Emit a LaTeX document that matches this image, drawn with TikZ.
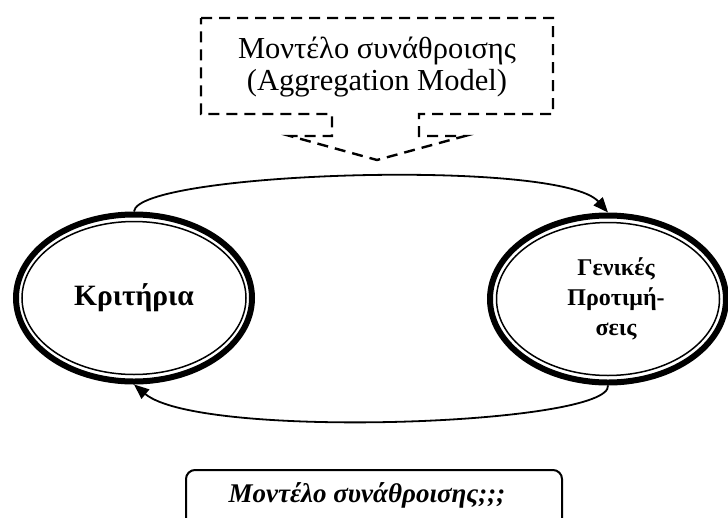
\documentclass[tikz,border=0pt]{standalone}
\usepackage{fontspec}
\setmainfont{Liberation Serif}
\usetikzlibrary{arrows.meta,shapes.geometric}

\tikzset{
  state/.style={ellipse, draw, line width=6pt, inner sep=0pt,
                minimum width=236pt, minimum height=167pt, align=center},
  innerring/.style={line width=1.5pt},
  flow/.style={line width=1.8pt, -{Triangle[length=15pt,width=12pt]}},
  calloutline/.style={line width=2.4pt, dash pattern=on 11pt off 7pt},
  notebox/.style={draw, line width=2pt, rounded corners=9pt,
                  minimum width=376pt, minimum height=70pt, anchor=north}
}

\begin{document}
\begin{tikzpicture}[x=1pt,y=-1pt]
  \clip (0,0) rectangle (728,517);
  \fill[white] (0,0) rectangle (728,517);

  % aggregation model callout
  \node[font=\fontsize{30.5}{32}\selectfont, align=center] (model) at (377,67)
    {Μοντέλο συνάθροισης\\(Aggregation Model)};
  \draw[calloutline] (201,18) -- (553,18) -- (553,114) -- (419,114) -- (419,136)
    -- (465,136) -- (377,160) -- (290,136) -- (332,136) -- (332,114)
    -- (201,114) -- cycle;

  % the two states
  \node[state, font=\bfseries\fontsize{29.5}{30}\selectfont] (krit) at (134,298) {Κριτήρια};
  \draw[innerring] (krit.center) ellipse [x radius=112, y radius=76.5];

  \node[state, font=\bfseries\fontsize{24}{30}\selectfont] (gen) at (608,299)
    {\hspace*{16pt}Γενικές\\\hspace*{16pt}Προτιμή-\\\hspace*{16pt}σεις};
  \draw[innerring] (gen.center) ellipse [x radius=111.5, y radius=76.5];

  % transitions
  \draw[flow] (krit.north) .. controls (137,172) and (560,158) .. (gen.north);
  \draw[flow] (gen.south) .. controls (612,425) and (200,440) .. (krit.south);

  % question box
  \node[notebox] (q) at (374,469) {};
  \node[font=\bfseries\itshape\fontsize{27}{30}\selectfont] (qt) at (367,495)
    {Μοντέλο συνάθροισης;;;};
\end{tikzpicture}
\end{document}
